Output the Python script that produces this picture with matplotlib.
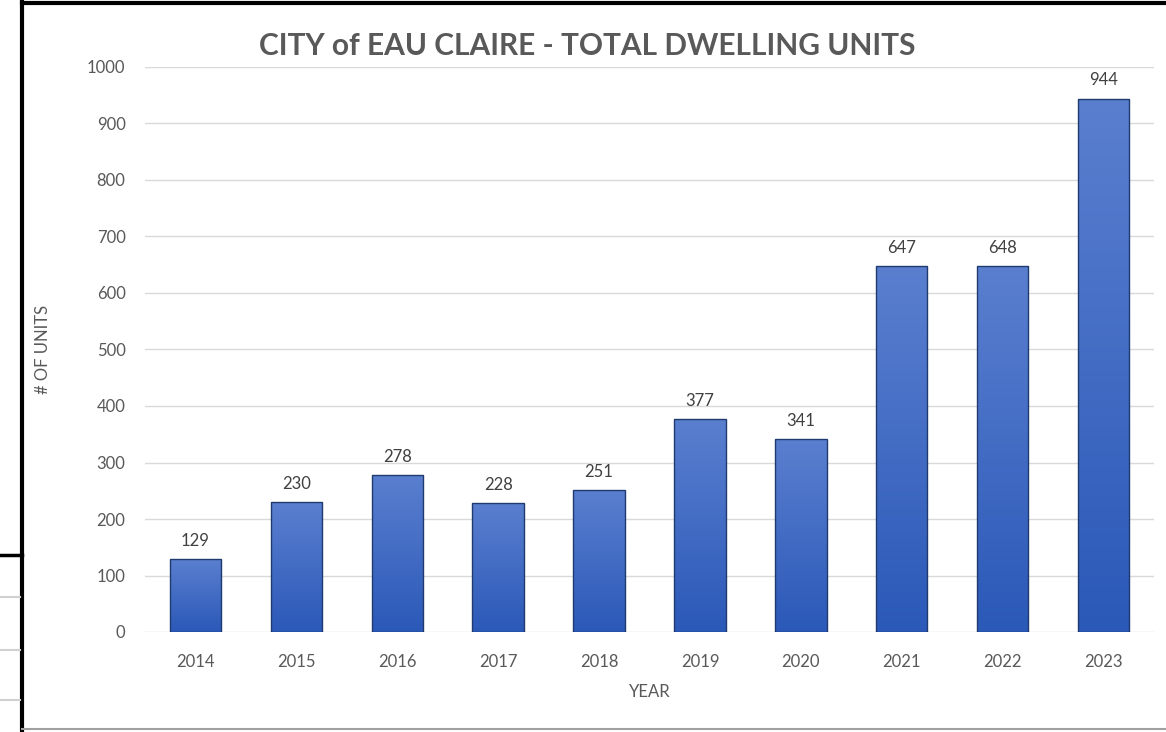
import matplotlib.pyplot as plt
import numpy as np
from matplotlib.colors import LinearSegmentedColormap
from matplotlib.lines import Line2D

years = ['2014', '2015', '2016', '2017', '2018', '2019', '2020', '2021', '2022', '2023']
units = [129, 230, 278, 228, 251, 377, 341, 647, 648, 944]

plt.rcParams['font.family'] = ['Lato', 'DejaVu Sans']
txt = '#595959'

fig = plt.figure(figsize=(11.66, 7.32), dpi=100)
ax = fig.add_axes([145/1166, 1-632/732, (1154-145)/1166, (632-67)/732])

# gradient bars
cmap = LinearSegmentedColormap.from_list('g', ['#2b59b8', '#5a7fcf'])
grad = np.linspace(0, 1, 256).reshape(-1, 1)
w = 0.51
x = np.arange(len(years))
bars = ax.bar(x, units, width=w, facecolor='none', edgecolor='#1f3a6e', linewidth=1.0, zorder=3)
for b in bars:
    im = ax.imshow(grad, extent=[b.get_x(), b.get_x()+b.get_width(), 0, b.get_height()],
                   origin='lower', cmap=cmap, aspect='auto', zorder=2)
    im.set_clip_path(b)
for xi, v in zip(x, units):
    ax.text(xi, v + 18, str(v), ha='center', va='bottom', fontsize=12, color='#404040')

ax.set_xlim(-0.5, len(years)-0.5)
ax.set_ylim(0, 1000)
ax.set_yticks(range(0, 1001, 100))
ax.set_xticks(x)
ax.set_xticklabels(years)
ax.grid(axis='y', color='#d9d9d9', linewidth=1, zorder=0)
ax.set_axisbelow(True)
for s in ax.spines.values():
    s.set_visible(False)
ax.tick_params(length=0, labelsize=12, colors=txt)
ax.tick_params(axis='x', pad=16)
ax.tick_params(axis='y', pad=14)
ax.set_xlabel('YEAR', fontsize=12, color=txt, labelpad=10)
ax.set_ylabel('# OF UNITS', fontsize=12, color=txt, labelpad=26)

fig.text(587/1166, 1-46/732, 'CITY of EAU CLAIRE - TOTAL DWELLING UNITS', ha='center', va='center',
         fontsize=21.5, fontweight='bold', color=txt)

# frame around the pasted chart
fig.add_artist(Line2D([22/1166, 22/1166], [0, 1-2/732], color='black', linewidth=3))
fig.add_artist(Line2D([22/1166, 1], [1-3/732, 1-3/732], color='black', linewidth=3))
fig.add_artist(Line2D([22/1166, 1], [1-729/732, 1-729/732], color='#a0a0a0', linewidth=1.5))
fig.add_artist(Line2D([0, 22/1166], [1-555/732, 1-555/732], color='black', linewidth=2.5))
for yy in [597, 650, 700]:
    fig.add_artist(Line2D([0, 20/1166], [1-yy/732, 1-yy/732], color='#d0d0d0', linewidth=1.5))

fig.savefig('out.png', dpi=100)
